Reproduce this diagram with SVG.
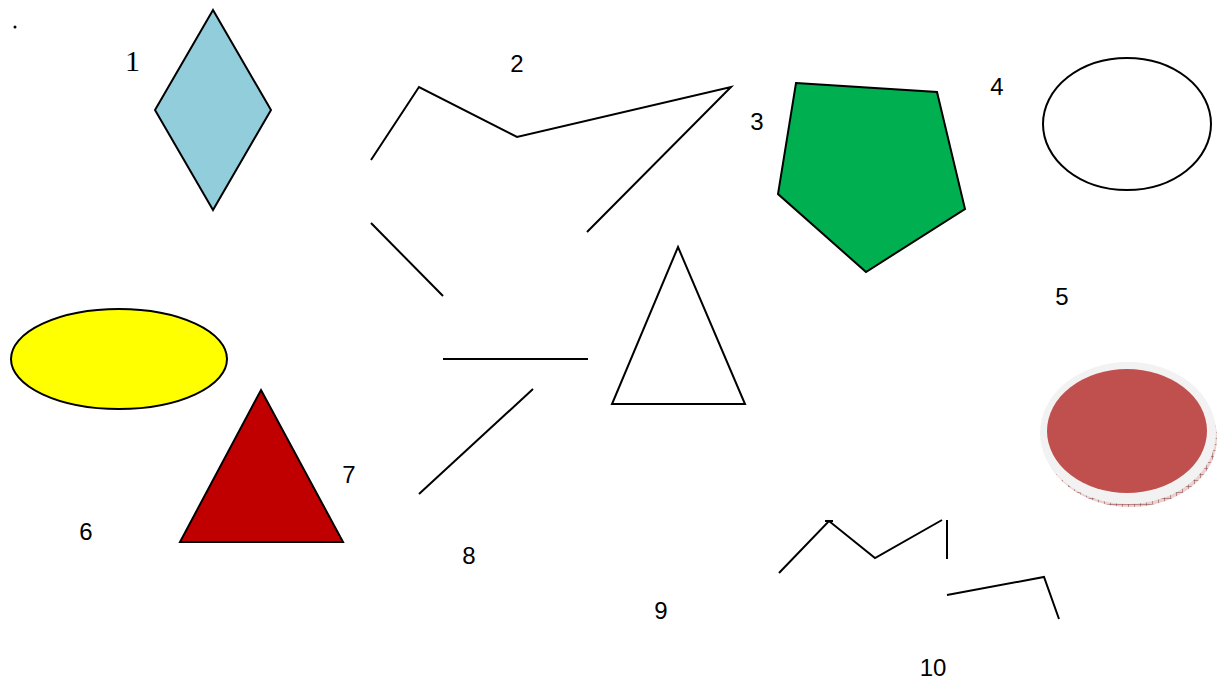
<svg xmlns="http://www.w3.org/2000/svg" width="1219" height="679" viewBox="0 0 1219 679">
<style>
.s{stroke:#000;stroke-width:2;stroke-linejoin:miter}
.l{fill:none;stroke:#000;stroke-width:2}
.t{font-family:"Liberation Sans",Arial,sans-serif;font-size:24px;fill:#000}
</style>
<defs>
<pattern id="hatch" width="6" height="6" patternUnits="userSpaceOnUse">
<rect width="6" height="6" fill="#e8d0d0"/>
<path d="M0 0H6M0 0V6" stroke="#8a3a3a" stroke-width="1"/>
</pattern>
</defs>
<rect width="1219" height="679" fill="#fff"/>
<circle cx="15" cy="27" r="1.5" fill="#000"/>
<g id="n1">
<polygon class="s" points="213,10 271,110 213,210 155,110" fill="#92CDDC"/>
<text x="125" y="71" font-family="Liberation Serif,serif" font-size="30">1</text>
</g>
<g id="connectors">
<polyline class="l" points="371,160 419,87 517,137 731,87 587,232"/>
<line class="l" x1="371" y1="223" x2="443" y2="296"/>
<line class="l" x1="443" y1="359" x2="588" y2="359"/>
<line class="l" x1="533" y1="389" x2="419" y2="494"/>
<polyline class="l" points="779,573 829,521 875,558 942,520"/>
<line class="l" x1="825" y1="521" x2="833" y2="521"/>
<line class="l" x1="947" y1="520" x2="947" y2="559"/>
<polyline class="l" points="947,595 1044,577 1059,619"/>
</g>
<g id="n2"><text class="t" x="517" y="72" text-anchor="middle">2</text></g>
<g id="n3"><text class="t" x="757" y="130" text-anchor="middle">3</text>
<polygon class="s" points="796,83 937,92 965,209 866,272 778,194" fill="#00B050"/></g>
<g id="n4"><text class="t" x="997" y="95" text-anchor="middle">4</text>
<ellipse class="s" cx="1127" cy="124" rx="84" ry="66" fill="#fff"/></g>
<g id="n5"><text class="t" x="1062" y="305" text-anchor="middle">5</text>
<ellipse cx="1130" cy="438" rx="87" ry="69" fill="url(#hatch)"/>
<ellipse cx="1128" cy="433" rx="88" ry="71" fill="#f2f2f2"/>
<ellipse cx="1127" cy="431" rx="80" ry="62" fill="#C0504D"/></g>
<g id="n6"><ellipse class="s" cx="119" cy="359" rx="108" ry="50" fill="#FFFF00"/>
<text class="t" x="86" y="540" text-anchor="middle">6</text></g>
<g id="n7"><polygon class="s" points="261,390 343,542 180,542" fill="#C00000"/>
<text class="t" x="349" y="483" text-anchor="middle">7</text></g>
<g id="n8"><polygon class="s" points="678,247 745,404 612,404" fill="#fff"/>
<text class="t" x="469" y="564" text-anchor="middle">8</text></g>
<g id="n9"><text class="t" x="661" y="619" text-anchor="middle">9</text></g>
<g id="n10"><text class="t" x="933" y="676" text-anchor="middle">10</text></g>
</svg>
